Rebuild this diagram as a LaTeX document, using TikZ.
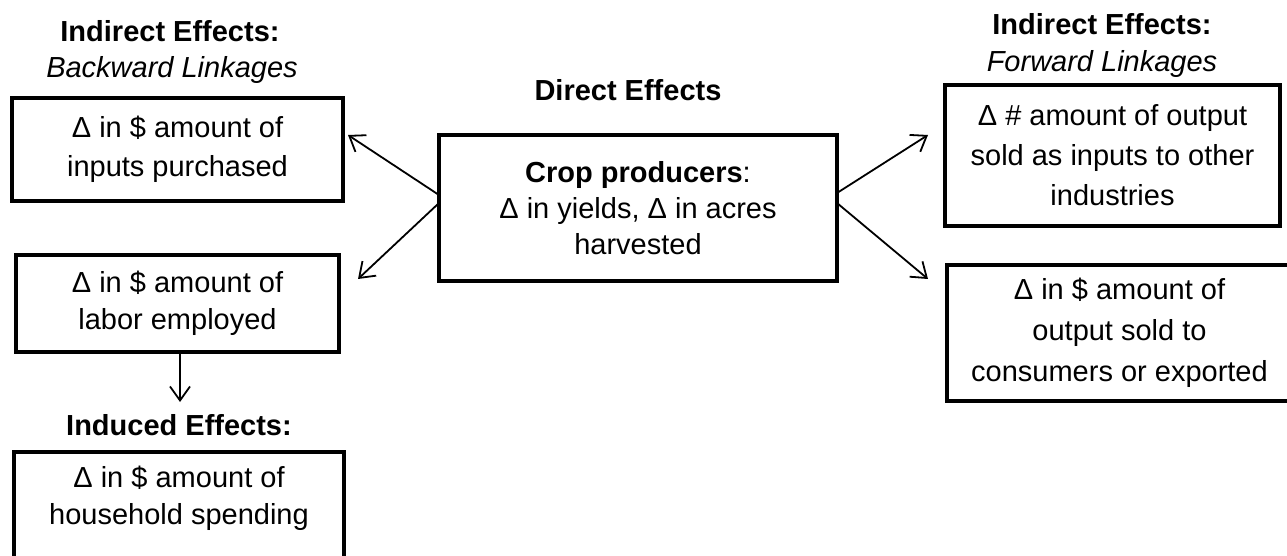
\documentclass[tikz,border=0pt]{standalone}
\usepackage{fontspec}
\setmainfont{Liberation Sans}
\usetikzlibrary{arrows.meta}
\begin{document}
\begin{tikzpicture}[x=0.5pt,y=-0.5pt,
  box/.style={draw, line width=2.2pt, rectangle, inner sep=0pt, outer sep=0pt, align=center, font=\fontsize{14.5}{19.5}\selectfont},
  boxtext/.style={inner sep=0pt, align=center, font=\fontsize{14.5}{18.5}\selectfont},
  title/.style={font=\fontsize{14.5}{17}\selectfont\bfseries, anchor=base, inner sep=0pt},
  sub/.style={font=\fontsize{14.5}{17}\selectfont\itshape, anchor=base, inner sep=0pt},
  conn/.style={line width=0.9pt, -{Straight Barb[length=7pt,width=10pt]}}]
\useasboundingbox (0,0) rectangle (1287,556);

% titles
\node[title] (t1) at (170,42) {Indirect Effects:};
\node[sub]   (s1) at (172,78) {Backward Linkages};
\node[title] (t2) at (1102,35) {Indirect Effects:};
\node[sub]   (s2) at (1102,72) {Forward Linkages};
\node[title] (t3) at (628,101) {Direct Effects};
\node[title] (t4) at (179,435) {Induced Effects:};

% boxes
\node[box, minimum width=165.5pt, minimum height=51.5pt] (b1) at (177.5,149.5)
  {Δ in \$ amount of\\inputs purchased};
\node[box, minimum width=161.5pt, minimum height=48.5pt, font=\fontsize{14.5}{18.5}\selectfont] (lab) at (177.5,303.5)
  {Δ in \$ amount of\\labor employed};
\node[box, minimum width=165pt, minimum height=54pt] (hh) at (179,506) {};
\node[boxtext] (hht) at (179,498.5) {Δ in \$ amount of\\household spending};
\node[box, minimum width=199pt, minimum height=73pt, font=\fontsize{14.5}{18}\selectfont] (c) at (638,208)
  {\textbf{Crop producers}:\\Δ in yields, Δ in acres\\harvested};
\node[box, minimum width=167.5pt, minimum height=70.5pt, font=\fontsize{14.5}{20}\selectfont] (r1) at (1112.5,155.5)
  {Δ \# amount of output\\sold as inputs to other\\industries};
\node[box, minimum width=172.5pt, minimum height=68pt, font=\fontsize{14.5}{20.5}\selectfont] (r2) at (1119.5,333)
  {Δ in \$ amount of\\output sold to\\consumers or exported};

% arrow end points
\coordinate (tb1) at (348,135);
\coordinate (tlab) at (358,279);
\coordinate (tr1) at (928,135);
\coordinate (tr2) at (928,279);
\coordinate (tind) at (180,402);

% connectors
\draw[conn] ([yshift=6.5pt]c.west) -- (tb1);
\draw[conn] ([yshift=2.5pt]c.west) -- (tlab);
\draw[conn] ([yshift=7.5pt]c.east) -- (tr1);
\draw[conn] ([yshift=2.5pt]c.east) -- (tr2);
\draw[conn] ([xshift=1.25pt]lab.south) -- (tind);
\end{tikzpicture}
\end{document}
